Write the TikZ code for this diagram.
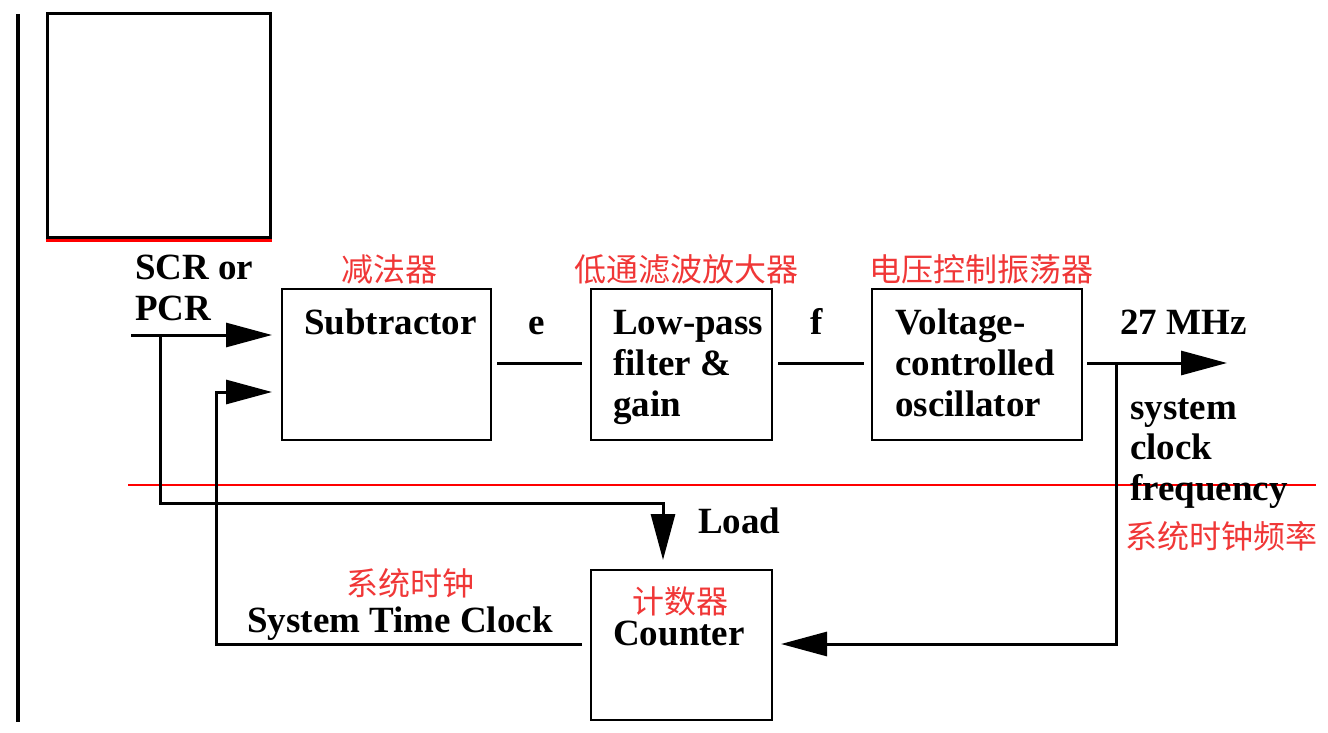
\documentclass[tikz,border=0pt]{standalone}
\usepackage{fontspec}
\setmainfont{Liberation Serif}
\newfontfamily\cjk{Noto Sans CJK SC}
\usetikzlibrary{arrows.meta,calc}
\definecolor{cnred}{RGB}{240,55,55}
\begin{document}
\begin{tikzpicture}[x=1pt,y=-1pt,
  blk/.style={draw,line width=2.9pt,minimum width=#1,minimum height=151pt,inner sep=0pt,outer sep=0pt},
  wire/.style={line width=3pt},
  tipped/.style={wire,-{Triangle[length=46pt,width=24pt]}},
  lbl/.style={inner sep=0pt,font=\fontsize{37}{44}\selectfont\bfseries},
  cn/.style={inner sep=0pt,text=cnred,font=\fontsize{32}{38}\selectfont\cjk},
  redline/.style={draw=red,line width=2.2pt}]
\useasboundingbox (0,0) rectangle (1328,733);
% left rule and top box
\coordinate (lt) at (18,14);
\coordinate (lb) at (18,722);
\draw[line width=3.2pt] (lt) -- (lb);
\node[draw,line width=3pt,minimum width=223pt,minimum height=223pt,inner sep=0pt] (top) at (158.5,125.5) {};
\draw[redline,line width=2.6pt] ([yshift=-2pt]top.south west) -- ([yshift=-2pt]top.south east);
% blocks
\node[blk=209pt] (sub) at (386.5,364.5) {};
\node[blk=181pt] (lp) at (681.5,364.5) {};
\node[blk=210pt] (vco) at (977,364.5) {};
\node[blk=181pt,minimum height=150pt] (cnt) at (681.5,645) {};
% red separator
\coordinate (rl) at (128,485);
\coordinate (rr) at (1316,485);
\draw[redline] (rl) -- (rr);
% coordinates
\coordinate (in) at (131,335);
\coordinate (tap) at (160,335);
\coordinate (tapd) at (160,503);
\coordinate (ldx) at (663,503);
\coordinate (stc) at (216,644);
\coordinate (stcu) at (216,392);
\coordinate (fb) at (1116,363);
\coordinate (fbd) at (1116,644);
\coordinate (out) at (1227,363);
% connectors
\draw[tipped,shorten >=10pt] (in) -- (sub.west |- in);
\draw[tipped,shorten >=10pt] (tap) -- (tapd) -- (ldx) -- (ldx |- cnt.north);
\draw[tipped,shorten >=10pt] ([xshift=-9pt]cnt.west |- stc) -- (stc) -- (stcu) -- (sub.west |- stcu);
\draw[wire,shorten <=6pt,shorten >=9pt] (sub.east |- 0,363) -- (lp.west |- 0,363);
\draw[wire,shorten <=6pt,shorten >=8pt] (lp.east |- 0,363) -- (vco.west |- 0,363);
\draw[tipped,shorten <=5pt] (vco.east |- out) -- (out);
\draw[tipped,shorten >=9pt] (fb) -- (fbd) -- (cnt.east |- fbd);
% black labels
\node[lbl,anchor=base west] (scr1) at (135,279) {SCR or};
\node[lbl,anchor=base west] (scr2) at (135,320) {PCR};
\node[lbl,anchor=base west] (subt) at (304,334) {Subtractor};
\node[lbl,anchor=base] (e) at (537,334) {e};
\node[lbl,anchor=base west] (lp1) at (613,334) {Low-pass};
\node[lbl,anchor=base west] (lp2) at (613,375) {filter \&};
\node[lbl,anchor=base west] (lp3) at (613,416) {gain};
\node[lbl,anchor=base] (f) at (817,334) {f};
\node[lbl,anchor=base west] (v1) at (895,334) {Voltage-};
\node[lbl,anchor=base west] (v2) at (895,375) {controlled};
\node[lbl,anchor=base west] (v3) at (895,416) {oscillator};
\node[lbl,anchor=base west] (mhz) at (1120,334) {27 MHz};
\node[lbl,anchor=base west] (s1) at (1130,419) {system};
\node[lbl,anchor=base west] (s2) at (1130,459) {clock};
\node[lbl,anchor=base west] (s3) at (1130,500) {frequency};
\node[lbl,anchor=base west] (load) at (698,533) {Load};
\node[lbl,anchor=base] (stct) at (400,632) {System Time Clock};
\node[lbl,anchor=base] (cntt) at (679,645) {Counter};
% red Chinese labels
\node[cn,anchor=base] (c1) at (389,281) {减法器};
\node[cn,anchor=base] (c2) at (686,281) {低通滤波放大器};
\node[cn,anchor=base] (c3) at (981,281) {电压控制振荡器};
\node[cn,anchor=base west] (c4) at (1125,548) {系统时钟频率};
\node[cn,anchor=base] (c5) at (410,595) {系统时钟};
\node[cn,anchor=base] (c6) at (680,613) {计数器};
\end{tikzpicture}
\end{document}
